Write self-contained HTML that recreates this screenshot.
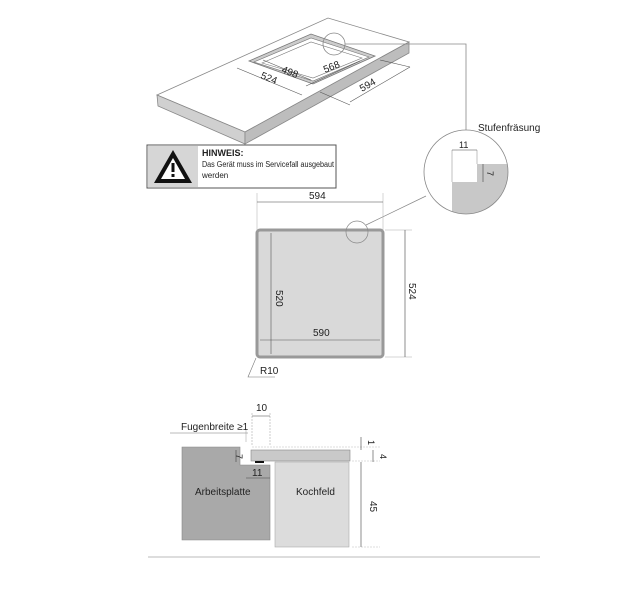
<!DOCTYPE html>
<html><head><meta charset="utf-8"><style>
html,body{margin:0;padding:0;background:#fff}
svg{display:block}
text{font-family:"Liberation Sans",sans-serif;fill:#222}
</style></head><body>
<svg width="640" height="596" viewBox="0 0 640 596" xmlns="http://www.w3.org/2000/svg">
<!-- countertop -->
<polygon points="157,95 328,18 409,42 245,132" fill="#fff" stroke="#888" stroke-width="0.8"/>
<polygon points="157,95 245,132 245,144 158,106" fill="#d0d0d0" stroke="#888" stroke-width="0.8"/>
<polygon points="245,132 409,42 409,53 245,144" fill="#bdbdbd" stroke="#888" stroke-width="0.8"/>
<!-- cutout -->
<polygon points="249,61 311,34 375,56 313,84" fill="#ccc" stroke="#777" stroke-width="0.8"/>
<polygon points="254,62 311,38 369,57 313,81" fill="#fff" stroke="#777" stroke-width="0.6"/>
<polygon points="262,63 311,42 362,58 313,78" fill="#fff" stroke="#777" stroke-width="0.6"/>
<circle cx="334" cy="44" r="11" fill="none" stroke="#888" stroke-width="0.8"/>
<polyline points="345,44 466,44 466,131" fill="none" stroke="#888" stroke-width="0.8"/>
<!-- dims iso -->
<line x1="237" y1="68" x2="302" y2="95" stroke="#555" stroke-width="0.6"/>
<line x1="263" y1="60" x2="311" y2="80" stroke="#555" stroke-width="0.6"/>
<line x1="306" y1="86" x2="360" y2="61" stroke="#555" stroke-width="0.6"/>
<line x1="320" y1="92" x2="350" y2="105" stroke="#555" stroke-width="0.6"/>
<line x1="350" y1="102" x2="410" y2="67" stroke="#555" stroke-width="0.6"/>
<line x1="380" y1="60" x2="410" y2="67" stroke="#555" stroke-width="0.6"/>
<text x="281" y="72" font-size="10" transform="rotate(22 281 72)">498</text>
<text x="325" y="73" font-size="10" transform="rotate(-22 325 73)">568</text>
<text x="260" y="78" font-size="10" transform="rotate(22 260 78)">524</text>
<text x="362" y="92" font-size="10" transform="rotate(-30 362 92)">594</text>
<!-- warning -->
<rect x="147" y="145" width="189" height="43" fill="#fff" stroke="#555" stroke-width="1"/>
<rect x="148" y="146" width="50" height="41" fill="#d6d6d6"/>
<polygon points="173,150 192,183 154,183" fill="#111"/>
<polygon points="173,158 185,179 161,179" fill="#fff"/>
<rect x="171.5" y="163" width="3" height="9" fill="#111"/>
<rect x="171.5" y="174" width="3" height="3" fill="#111"/>
<text x="202" y="156" font-size="9" font-weight="bold">HINWEIS:</text>
<text x="202" y="167" font-size="8" textLength="132" lengthAdjust="spacingAndGlyphs">Das Gerät muss im Servicefall ausgebaut</text>
<text x="202" y="178" font-size="8">werden</text>
<!-- detail circle -->
<text x="478" y="131" font-size="10">Stufenfräsung</text>
<defs><clipPath id="cc"><circle cx="466" cy="172" r="42"/></clipPath></defs>
<circle cx="466" cy="172" r="42" fill="#fff"/>
<polygon points="452,182 477,182 477,164 520,164 520,220 452,220" fill="#c8c8c8" clip-path="url(#cc)"/>
<line x1="452" y1="150" x2="452" y2="182" stroke="#999" stroke-width="0.6"/>
<line x1="477" y1="150" x2="477" y2="164" stroke="#999" stroke-width="0.6"/>
<line x1="452" y1="150" x2="477" y2="150" stroke="#444" stroke-width="0.6"/>
<text x="459" y="148" font-size="9">11</text>
<line x1="483" y1="164" x2="483" y2="182" stroke="#444" stroke-width="0.6"/>
<text x="485" y="173" font-size="9" transform="rotate(90 487 173)">7</text>
<circle cx="466" cy="172" r="42" fill="none" stroke="#888" stroke-width="0.8"/>
<line x1="366" y1="225" x2="426" y2="196" stroke="#888" stroke-width="0.7"/>
<!-- plan view -->
<line x1="257" y1="193" x2="257" y2="230" stroke="#aaa" stroke-width="0.5"/>
<line x1="383" y1="193" x2="383" y2="230" stroke="#aaa" stroke-width="0.5"/>
<line x1="257" y1="202" x2="383" y2="202" stroke="#444" stroke-width="0.6"/>
<text x="309" y="199" font-size="10">594</text>
<rect x="257" y="230" width="126" height="127" rx="3" fill="#d9d9d9" stroke="#999" stroke-width="3"/>
<line x1="271" y1="233" x2="271" y2="354" stroke="#555" stroke-width="0.6"/>
<line x1="260" y1="340" x2="380" y2="340" stroke="#555" stroke-width="0.6"/>
<text x="276" y="290" font-size="10" transform="rotate(90 276 290)">520</text>
<text x="313" y="336" font-size="10">590</text>
<line x1="385" y1="230" x2="412" y2="230" stroke="#aaa" stroke-width="0.5"/>
<line x1="385" y1="357" x2="412" y2="357" stroke="#aaa" stroke-width="0.5"/>
<line x1="405" y1="230" x2="405" y2="357" stroke="#444" stroke-width="0.6"/>
<text x="407" y="285" font-size="10" transform="rotate(90 409 285)">524</text>
<circle cx="357" cy="232" r="11" fill="none" stroke="#888" stroke-width="0.7"/>
<polyline points="256,358 248,377 275,377" fill="none" stroke="#777" stroke-width="0.6"/>
<text x="260" y="374" font-size="10">R10</text>
<!-- section -->
<polygon points="182,447 240,447 240,465 270,465 270,540 182,540" fill="#a9a9a9" stroke="#888" stroke-width="0.6"/>
<rect x="275" y="462" width="74" height="85" fill="#dcdcdc" stroke="#aaa" stroke-width="0.6"/>
<rect x="251" y="450" width="99" height="11" fill="#c9c9c9" stroke="#888" stroke-width="0.6"/>
<rect x="255" y="461" width="9" height="2" fill="#111"/>
<line x1="252" y1="413" x2="252" y2="446" stroke="#999" stroke-width="0.5" stroke-dasharray="2,1"/>
<line x1="270" y1="413" x2="270" y2="446" stroke="#999" stroke-width="0.5" stroke-dasharray="2,1"/>
<line x1="252" y1="416" x2="270" y2="416" stroke="#444" stroke-width="0.6"/>
<text x="256" y="411" font-size="10">10</text>
<text x="181" y="430" font-size="10">Fugenbreite ≥1</text>
<line x1="170" y1="433" x2="248" y2="433" stroke="#777" stroke-width="0.5"/>
<line x1="246" y1="430" x2="246" y2="442" stroke="#999" stroke-width="0.5"/>
<line x1="236" y1="450" x2="236" y2="462" stroke="#444" stroke-width="0.6"/>
<text x="231" y="453" font-size="9" transform="rotate(90 233 456)">7</text>
<line x1="246" y1="478" x2="270" y2="478" stroke="#444" stroke-width="0.6"/>
<text x="252" y="476" font-size="10">11</text>
<text x="195" y="495" font-size="10">Arbeitsplatte</text>
<text x="296" y="495" font-size="10">Kochfeld</text>
<line x1="252" y1="447" x2="380" y2="447" stroke="#bbb" stroke-width="0.5" stroke-dasharray="2,1"/>
<line x1="352" y1="461" x2="380" y2="461" stroke="#bbb" stroke-width="0.5" stroke-dasharray="2,1"/>
<line x1="352" y1="547" x2="380" y2="547" stroke="#bbb" stroke-width="0.5" stroke-dasharray="2,1"/>
<line x1="361" y1="437" x2="361" y2="450" stroke="#444" stroke-width="0.6"/>
<line x1="373" y1="450" x2="373" y2="462" stroke="#444" stroke-width="0.6"/>
<line x1="361" y1="462" x2="361" y2="547" stroke="#444" stroke-width="0.6"/>
<text x="364" y="440" font-size="9" transform="rotate(90 366 442)">1</text>
<text x="376" y="454" font-size="9" transform="rotate(90 378 456)">4</text>
<text x="363" y="500" font-size="10" transform="rotate(90 366 504)">45</text>
<line x1="148" y1="557" x2="540" y2="557" stroke="#bbb" stroke-width="1"/>
</svg>
</body></html>
